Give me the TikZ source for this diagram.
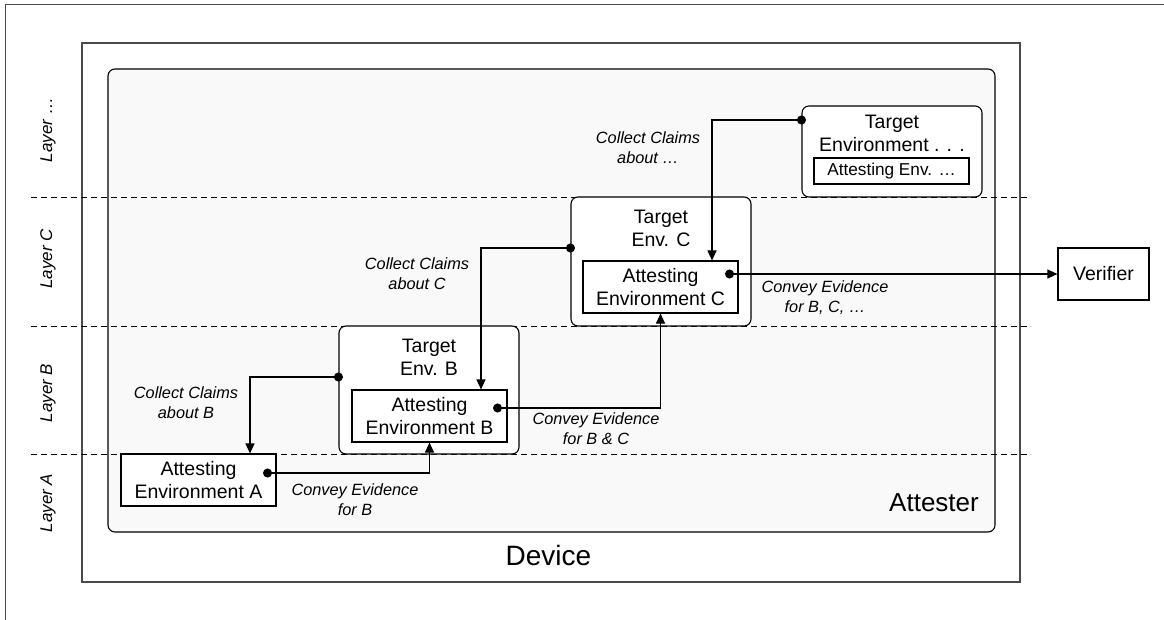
\documentclass[tikz,border=0pt]{standalone}
\usepackage{fontspec}
\setmainfont{Liberation Sans}
\usetikzlibrary{arrows.meta}
\definecolor{attfill}{HTML}{F9F9F9}
\definecolor{framegray}{HTML}{4A4A4A}
\tikzset{
  box/.style={draw=black, line width=1.1pt, fill=white, inner sep=0pt, align=center,
    font=\fontsize{19.5}{23}\selectfont},
  tbox/.style={box, rounded corners=7pt},
  ttl/.style={align=center, inner sep=0pt, font=\fontsize{19.5}{23}\selectfont},
  lbl/.style={align=center, inner sep=0pt, font=\fontsize{16.3}{20}\selectfont\itshape},
  layerlbl/.style={rotate=90, inner sep=0pt, font=\fontsize{17}{19}\selectfont\itshape},
  sep/.style={draw=black, line width=0.9pt, dash pattern=on 6pt off 4pt},
  conn/.style={draw=black, line width=1.1pt, {Circle[length=9pt]}-{Triangle[length=10pt,width=9pt]}},
}
\begin{document}
\begin{tikzpicture}[x=1pt,y=-1pt]
\useasboundingbox (0,0) rectangle (1164,620);
% outer frame (only top and left visible)
\draw[framegray, line width=0.9pt] (5,620) -- (5,4) -- (1164,4);
% device
\node[draw=framegray, line width=1.5pt, minimum width=938pt, minimum height=539pt, inner sep=0pt] (dev) at (551,312.5) {};
\node[inner sep=0pt, font=\fontsize{28}{30}\selectfont] (devlbl) at (548.5,555) {Device};
% attester
\node[draw=black, line width=1.1pt, fill=attfill, rounded corners=7pt, minimum width=887pt, minimum height=463pt, inner sep=0pt] (att) at (551.5,300.5) {};
\node[inner sep=0pt, anchor=east, font=\fontsize{26}{28}\selectfont] (attlbl) at (979,503) {Attester};
% layer separators
\draw[sep] (31,197) -- (1031,197);
\draw[sep] (31,326) -- (1031,326);
\draw[sep] (31,454) -- (1031,454);
% layer labels
\node[layerlbl] (lX) at (48,130) {Layer …};
\node[layerlbl] (lC) at (48,259) {Layer C};
\node[layerlbl] (lB) at (48,393) {Layer B};
\node[layerlbl] (lA) at (48,503) {Layer A};
% target environments
\node[tbox, minimum width=180pt, minimum height=91pt] (tX) at (892,151.5) {};
\node[ttl] (tXt) at (892,133.5) {Target\\Environment . . .};
\node[box, minimum width=155pt, minimum height=26pt, font=\fontsize{17.2}{20}\selectfont] (aX) at (891.5,171) {Attesting Env. …};

\node[tbox, minimum width=180pt, minimum height=129pt] (tC) at (661,261.5) {};
\node[ttl] (tCt) at (661,228) {Target\\Env. C};
\node[box, minimum width=155pt, minimum height=52pt] (aC) at (660.5,287) {Attesting\\Environment C};

\node[tbox, minimum width=180pt, minimum height=128pt] (tB) at (429,390) {};
\node[ttl] (tBt) at (429,357) {Target\\Env. B};
\node[box, minimum width=155pt, minimum height=52pt] (aB) at (429.5,416) {Attesting\\Environment B};

\node[box, minimum width=155pt, minimum height=52pt] (aA) at (198.5,480) {Attesting\\Environment A};

\node[box, minimum width=91pt, minimum height=52pt] (ver) at (1103.5,274) {Verifier};

% connectors
\draw[conn] ([xshift=4.5pt]tX.west |- 0,120) -| ([xshift=51.5pt]aC.north);
\draw[conn] ([xshift=4.5pt]tC.west |- 0,248) -| ([xshift=51.5pt]aB.north);
\draw[conn] ([xshift=4.5pt]tB.west |- 0,377) -| ([xshift=51.5pt]aA.north);
\draw[conn] ([xshift=-13.5pt]aA.east |- 0,473) -| (aB.south);
\draw[conn] ([xshift=-14.5pt]aB.east |- 0,408) -| (aC.south);
\draw[conn] ([xshift=-13.5pt]aC.east |- 0,274) -- (ver.west |- 0,274);

% connector labels
\node[lbl] (c1) at (648,148) {Collect Claims\\about …};
\node[lbl] (c2) at (417,274) {Collect Claims\\about C};
\node[lbl] (c3) at (186,403) {Collect Claims\\about B};
\node[lbl] (v1) at (355,500) {Convey Evidence\\for B};
\node[lbl] (v2) at (596,429) {Convey Evidence\\for B \& C};
\node[lbl] (v3) at (825,298) {Convey Evidence\\for B, C, …};
\end{tikzpicture}
\end{document}
